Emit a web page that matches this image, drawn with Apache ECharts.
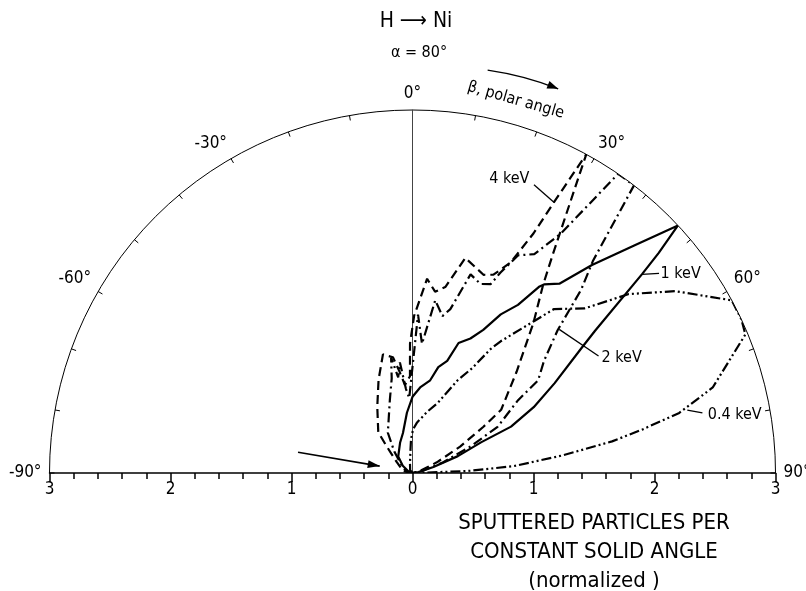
<!DOCTYPE html>
<html>
<head>
<meta charset="utf-8">
<script src="https://cdn.jsdelivr.net/npm/echarts@6/dist/echarts.min.js"></script>
<style>
  html, body { margin: 0; padding: 0; background: #fff; }
  #chart { width: 806px; height: 591px; }
</style>
</head>
<body>
<div id="chart"></div>
<script>
// Angular distributions of Ni atoms sputtered by H ions (alpha = 80 deg).
// beta: polar angle in degrees (0 = surface normal, positive clockwise)
// r: sputtered particles per constant solid angle, normalized to 3 at maximum.

const beta4keV = [-90, -78, -55, -44, -40, -28, -20, -14, -9.6, -7.2, -4.9, -1.5, -1.1, 0.6, 4.3, 7.1, 10.0, 13.8, 19.7, 22.2, 25.0, 26.8, 27.6, 28.6, 32.6, 34.8, 38.9, 45.8, 54.5, 56.9, 61.0, 66.3, 75, 90];
const r4keV    = [0, 0.08, 0.16, 0.31, 0.44, 0.62, 0.82, 1.01, 0.97, 0.84, 0.73, 0.80, 1.07, 1.30, 1.61, 1.51, 1.56, 1.83, 1.74, 1.77, 1.92, 2.22, 2.53, 3.00, 2.16, 1.89, 1.59, 1.20, 0.90, 0.70, 0.45, 0.22, 0.06, 0];

const beta2keV = [-90, -78, -57, -40.5, -31.5, -17.3, -12.4, -10.5, -8.5, -6.5, -4.5, -2.5, 2.0, 4.2, 7.5, 10.8, 13.0, 16.3, 19.8, 22.5, 23.7, 25.9, 29.1, 31.8, 34.5, 37.6, 40.4, 42.6, 45.5, 49.5, 53.6, 55.4, 61.5, 65.4, 70.6, 78, 90];
const r2keV    = [0, 0.05, 0.10, 0.23, 0.39, 0.63, 0.80, 0.97, 0.80, 0.92, 0.70, 0.62, 1.31, 1.07, 1.44, 1.32, 1.39, 1.71, 1.66, 1.69, 1.81, 2.00, 2.07, 2.33, 3.00, 3.00, 2.30, 2.06, 1.68, 1.43, 1.29, 1.06, 0.80, 0.53, 0.27, 0.08, 0];

const beta1keV = [-90, -65, -53.6, -41, -22.4, -13.4, -5.3, 0, 5.1, 10.8, 13.7, 17.2, 19.5, 23.3, 26.3, 29.1, 32.1, 34.2, 34.9, 37.8, 40.8, 44.3, 47.0, 48.2, 49.1, 52.1, 53.5, 57.7, 61.5, 64.8, 65.9, 69.6, 74, 82, 90];
const r1keV    = [0, 0.04, 0.10, 0.18, 0.27, 0.34, 0.50, 0.63, 0.71, 0.78, 0.90, 0.97, 1.14, 1.21, 1.32, 1.50, 1.64, 1.86, 1.90, 1.98, 2.27, 2.63, 3.00, 2.73, 2.51, 1.91, 1.74, 1.39, 1.14, 0.90, 0.62, 0.40, 0.18, 0.05, 0];

const beta04keV = [-90, -40, -15, -6, -2.5, 0.7, 5.2, 13.5, 20.0, 25.9, 29.7, 32.2, 33.8, 38.7, 40.8, 46.3, 50.4, 55.3, 61.6, 65.0, 67.4, 74.1, 77.3, 79.3, 81.0, 83.3, 86.1, 88.0, 90];
const r04keV    = [0, 0.03, 0.08, 0.17, 0.28, 0.36, 0.42, 0.52, 0.62, 0.85, 1.00, 1.21, 1.31, 1.61, 1.79, 1.97, 2.32, 2.64, 3.00, 3.00, 2.98, 2.58, 2.26, 1.93, 1.67, 1.25, 0.84, 0.45, 0];

const energyNames = ['4 keV', '2 keV', '1 keV', '0.4 keV'];

// Tick labels
const angleLabelValues = [-90, -60, -30, 0, 30, 60, 90];
const angleLabelTexts  = ['-90°', '-60°', '-30°', '0°', '30°', '60°', '90°'];
const radiusTickValues = [-3, -2, -1, 0, 1, 2, 3];
const radiusTickTexts  = ['3', '2', '1', '0', '1', '2', '3'];

// Annotation anchors, in the same units as r (x horizontal, y vertical)
const labelAnchors  = [[0.80, 2.43], [1.5625, 0.951], [2.05, 1.650], [2.44, 0.480]];
const leaderStarts  = [[1.004, 2.382], [1.5375, 0.967], [2.0375, 1.650], [2.396, 0.496]];
const leaderEnds    = [[1.171, 2.236], [1.2125, 1.187], [1.896, 1.642], [2.271, 0.520]];
const betaTextAnchor = [0.854, 3.08];
const betaArrow = [[0.621, 3.33], [0.93, 3.285], [1.204, 3.175]];
const originArrow = [[-0.946, 0.171], [-0.271, 0.057]];
const axisTitleLines = ['SPUTTERED PARTICLES PER', 'CONSTANT SOLID ANGLE', '(normalized )'];

const FONT = "'Liberation Sans Narrow', 'DejaVu Sans Condensed', 'Liberation Sans', sans-serif";
const CX = 412.5, CY = 473, R = 363;

function zip(betas, radii) { return betas.map((b, i) => [radii[i], b]); }

const curveStyles = [
  { type: [9, 5], width: 2.2 },
  { type: [10, 4, 2, 4], width: 2.2 },
  { type: 'solid', width: 2.2 },
  { type: [10, 3, 2, 3, 2, 3], width: 2.2 }
];
const curveData = [zip(beta4keV, r4keV), zip(beta2keV, r2keV), zip(beta1keV, r1keV), zip(beta04keV, r04keV)];

const chart = echarts.init(document.getElementById('chart'), null, { renderer: 'canvas' });

const option = {
  animation: false,
  backgroundColor: '#fff',
  textStyle: { fontFamily: FONT, color: '#000' },
  polar: { center: [CX, CY], radius: R },
  angleAxis: {
    type: 'value', min: -90, max: 90, interval: 10,
    startAngle: 180, endAngle: 0, clockwise: true,
    axisLine: { show: true, lineStyle: { color: '#000', width: 1 } },
    axisTick: { show: true, inside: true, length: 5, lineStyle: { color: '#000', width: 1 } },
    axisLabel: {
      show: true, margin: 8, color: '#000', fontSize: 17, fontFamily: FONT,
      formatter: v => { const k = angleLabelValues.indexOf(Math.round(v)); return k >= 0 ? angleLabelTexts[k] : ''; }
    },
    splitLine: { show: false }
  },
  radiusAxis: {
    type: 'value', min: 0, max: 3,
    axisLine: { show: false }, axisTick: { show: false }, axisLabel: { show: false }, splitLine: { show: false }
  },
  grid: {
    left: CX - R, top: CY - R, width: 2 * R, height: R,
    containLabel: false, outerBoundsMode: 'none'
  },
  xAxis: {
    type: 'value', min: -3, max: 3, interval: 1,
    axisLine: { show: true, onZero: false, lineStyle: { color: '#000', width: 1.5 } },
    axisTick: { show: true, length: 9, lineStyle: { color: '#000', width: 1.5 } },
    minorTick: { show: true, splitNumber: 5, length: 6, lineStyle: { color: '#000', width: 1.5 } },
    axisLabel: {
      color: '#000', fontSize: 17, margin: 8, fontFamily: FONT,
      formatter: v => { const k = radiusTickValues.indexOf(Math.round(v)); return k >= 0 ? radiusTickTexts[k] : ''; }
    },
    splitLine: { show: false }, minorSplitLine: { show: false }
  },
  yAxis: {
    type: 'value', min: 0, max: 3,
    axisLine: { show: true, onZero: true, lineStyle: { color: '#444', width: 1 } },
    axisTick: { show: false }, axisLabel: { show: false }, splitLine: { show: false }
  },
  series: curveData.map((d, i) => ({
    name: energyNames[i],
    type: 'line', coordinateSystem: 'polar', polarIndex: 0,
    data: d, symbol: 'none', showSymbol: false, smooth: false, clip: false,
    lineStyle: { color: '#000', width: curveStyles[i].width, type: curveStyles[i].type },
    z: 3
  }))
};

chart.setOption(option);

const P = p => chart.convertToPixel({ gridIndex: 0 }, p);

function arrowHead(from, to, len, half) {
  const dx = to[0] - from[0], dy = to[1] - from[1];
  const d = Math.hypot(dx, dy), ux = dx / d, uy = dy / d;
  const bx = to[0] - ux * len, by = to[1] - uy * len;
  return [to, [bx - uy * half, by + ux * half], [bx + uy * half, by - ux * half]];
}

const g = [];

// Title
g.push({ type: 'text', x: 416, y: 22, style: { text: 'H \u27F6 Ni', font: `21px ${FONT}`, fill: '#000', align: 'center', verticalAlign: 'middle' } });
g.push({ type: 'text', x: 419, y: 53, style: { text: 'α = 80°', font: `16px ${FONT}`, fill: '#000', align: 'center', verticalAlign: 'middle' } });

// Radius axis title, centred under the right half
const titleX = P([1.5, 0])[0];
[523, 552, 581].forEach((yy, i) => {
  g.push({ type: 'text', x: titleX, y: yy, style: { text: axisTitleLines[i], font: `22px ${FONT}`, fill: '#000', align: 'center', verticalAlign: 'middle' } });
});

// Energy labels with leader lines
energyNames.forEach((name, i) => {
  const a = P(labelAnchors[i]);
  const s = P(leaderStarts[i]), e = P(leaderEnds[i]);
  g.push({ type: 'line', shape: { x1: s[0], y1: s[1], x2: e[0], y2: e[1] }, style: { stroke: '#000', lineWidth: 1.3 } });
  g.push({ type: 'text', x: a[0], y: a[1], style: { text: name, font: `16px ${FONT}`, fill: '#000', align: i === 0 ? 'center' : 'left', verticalAlign: 'middle' } });
});

// "β, polar angle" caption with its curved arrow
const bt = P(betaTextAnchor);
g.push({ type: 'text', x: bt[0], y: bt[1], rotation: -16 * Math.PI / 180, style: { text: 'β, polar angle', font: `16px ${FONT}`, fill: '#000', align: 'center', verticalAlign: 'middle' } });
const ba0 = P(betaArrow[0]), ba1 = P(betaArrow[1]), ba2 = P(betaArrow[2]);
g.push({ type: 'bezierCurve', shape: { x1: ba0[0], y1: ba0[1], cpx1: ba1[0], cpy1: ba1[1], x2: ba2[0], y2: ba2[1] }, style: { stroke: '#000', lineWidth: 1.4, fill: null } });
g.push({ type: 'polygon', shape: { points: arrowHead(ba1, ba2, 11, 4) }, style: { fill: '#000' } });

// Arrow pointing at the origin
const oa0 = P(originArrow[0]), oa1 = P(originArrow[1]);
g.push({ type: 'line', shape: { x1: oa0[0], y1: oa0[1], x2: oa1[0], y2: oa1[1] }, style: { stroke: '#000', lineWidth: 1.6 } });
g.push({ type: 'polygon', shape: { points: arrowHead(oa0, oa1, 12, 4) }, style: { fill: '#000' } });

chart.setOption({ graphic: { elements: g } });
</script>
</body>
</html>
